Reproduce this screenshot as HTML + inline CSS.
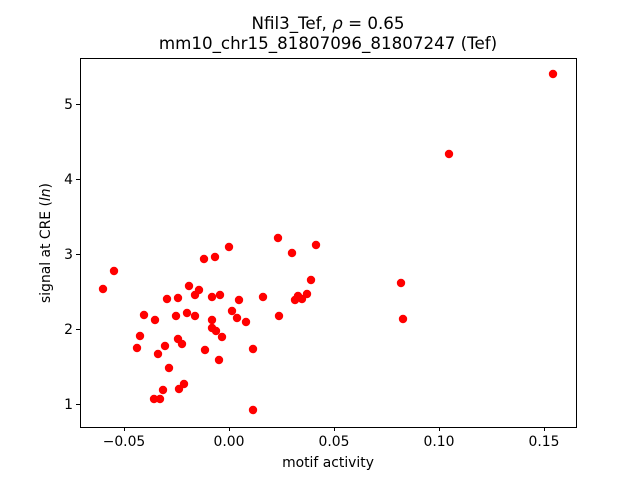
<!DOCTYPE html>
<html><head><meta charset="utf-8"><style>body{margin:0;background:#fff}svg{display:block;font-family:"DejaVu Sans","Liberation Sans",sans-serif}</style></head><body>
<svg width="640" height="480" viewBox="0 0 640 480" xmlns="http://www.w3.org/2000/svg">
<rect width="640" height="480" fill="#fff"/>
<g fill="#ff0000">
<circle cx="103" cy="289" r="4.2"/><circle cx="114" cy="271" r="4.2"/><circle cx="137" cy="348" r="4.2"/><circle cx="140" cy="336" r="4.2"/><circle cx="144" cy="315" r="4.2"/><circle cx="154" cy="399" r="4.2"/><circle cx="155" cy="320" r="4.2"/><circle cx="158" cy="354" r="4.2"/><circle cx="160" cy="399" r="4.2"/><circle cx="163" cy="390" r="4.2"/><circle cx="165" cy="346" r="4.2"/><circle cx="167" cy="299" r="4.2"/><circle cx="169" cy="368" r="4.2"/><circle cx="176" cy="316" r="4.2"/><circle cx="178" cy="298" r="4.2"/><circle cx="178" cy="339" r="4.2"/><circle cx="179" cy="389" r="4.2"/><circle cx="182" cy="344" r="4.2"/><circle cx="184" cy="384" r="4.2"/><circle cx="187" cy="313" r="4.2"/><circle cx="189" cy="286" r="4.2"/><circle cx="195" cy="295" r="4.2"/><circle cx="195" cy="316" r="4.2"/><circle cx="199" cy="290" r="4.2"/><circle cx="204" cy="259" r="4.2"/><circle cx="205" cy="350" r="4.2"/><circle cx="212" cy="320" r="4.2"/><circle cx="212" cy="297" r="4.2"/><circle cx="212" cy="328" r="4.2"/><circle cx="215" cy="257" r="4.2"/><circle cx="216" cy="331" r="4.2"/><circle cx="219" cy="360" r="4.2"/><circle cx="220" cy="295" r="4.2"/><circle cx="222" cy="337" r="4.2"/><circle cx="229" cy="247" r="4.2"/><circle cx="232" cy="311" r="4.2"/><circle cx="237" cy="318" r="4.2"/><circle cx="239" cy="300" r="4.2"/><circle cx="246" cy="322" r="4.2"/><circle cx="253" cy="410" r="4.2"/><circle cx="253" cy="349" r="4.2"/><circle cx="263" cy="297" r="4.2"/><circle cx="278" cy="238" r="4.2"/><circle cx="279" cy="316" r="4.2"/><circle cx="292" cy="253" r="4.2"/><circle cx="295" cy="300" r="4.2"/><circle cx="298" cy="296" r="4.2"/><circle cx="302" cy="299" r="4.2"/><circle cx="307" cy="294" r="4.2"/><circle cx="311" cy="280" r="4.2"/><circle cx="316" cy="245" r="4.2"/><circle cx="401" cy="283" r="4.2"/><circle cx="403" cy="319" r="4.2"/><circle cx="449" cy="154" r="4.2"/><circle cx="553" cy="74" r="4.2"/>
</g>
<rect x="80.5" y="58.5" width="496" height="369" fill="none" stroke="#000" stroke-width="1"/>
<g stroke="#000" stroke-width="1">
<line x1="124.5" y1="427" x2="124.5" y2="431"/><line x1="229.5" y1="427" x2="229.5" y2="431"/><line x1="334.5" y1="427" x2="334.5" y2="431"/><line x1="439.5" y1="427" x2="439.5" y2="431"/><line x1="544.5" y1="427" x2="544.5" y2="431"/>
<line x1="76" y1="404.5" x2="80" y2="404.5"/><line x1="76" y1="329.5" x2="80" y2="329.5"/><line x1="76" y1="254.5" x2="80" y2="254.5"/><line x1="76" y1="179.5" x2="80" y2="179.5"/><line x1="76" y1="104.5" x2="80" y2="104.5"/>
</g>
<g font-size="13.9" fill="#000" text-anchor="middle">
<text x="124" y="446">−0.05</text><text x="229" y="446">0.00</text><text x="334" y="446">0.05</text><text x="439" y="446">0.10</text><text x="544" y="446">0.15</text>
<text x="328" y="467">motif activity</text>
</g>
<g font-size="13.9" fill="#000" text-anchor="end">
<text x="73" y="409">1</text><text x="73" y="334">2</text><text x="73" y="259">3</text><text x="73" y="184">4</text><text x="73" y="109">5</text>
</g>
<text transform="translate(50,243) rotate(-90)" font-size="13.9" text-anchor="middle">signal at CRE (<tspan font-style="italic">ln</tspan>)</text>
<text x="328" y="29" font-size="16.7" text-anchor="middle">Nfil3_Tef, <tspan font-style="italic">ρ</tspan> = 0.65</text>
<text x="328" y="49" font-size="16.7" text-anchor="middle">mm10_chr15_81807096_81807247 (Tef)</text>
</svg>
</body></html>
